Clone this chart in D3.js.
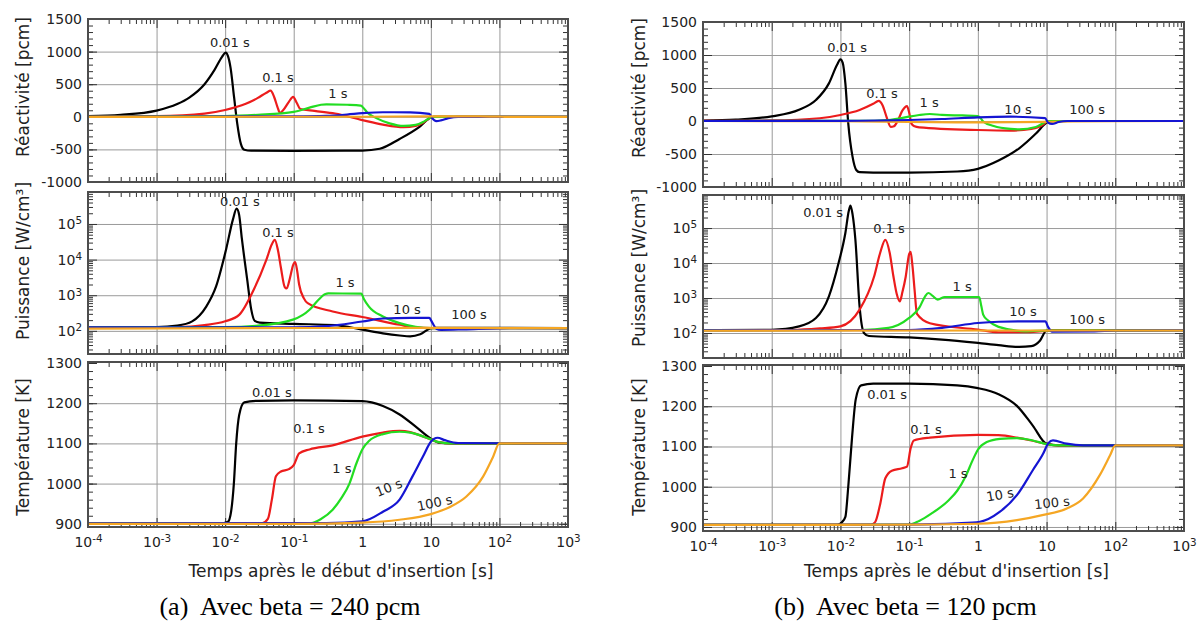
<!DOCTYPE html>
<html>
<head>
<meta charset="utf-8" />
<title>Insertion de réactivité</title>
<script src="https://d3js.org/d3.v7.min.js"></script>
<style>
  body { margin: 0; background: #fff; }
  svg { display: block; background: #fff; }
</style>
</head>
<body>
<svg width="1203" height="625"></svg>
<script>
// ---- data ----
const seriesNames = ["0.01 s", "0.1 s", "1 s", "10 s", "100 s"];
const seriesColors = ["#000000", "#ec1c1c", "#22dd22", "#1515d2", "#f5a623"];

const xTicks = [1e-4, 1e-3, 1e-2, 1e-1, 1, 10, 100, 1000];
const xTickLabels = [["10", "-4"], ["10", "-3"], ["10", "-2"], ["10", "-1"], ["1", ""], ["10", ""], ["10", "2"], ["10", "3"]];
const reactTicks = [-1000, -500, 0, 500, 1000, 1500];
const powerTicks = [1e2, 1e3, 1e4, 1e5];
const powerTickLabels = [["10", "2"], ["10", "3"], ["10", "4"], ["10", "5"]];
const tempTicks = [900, 1000, 1100, 1200, 1300];

// (a) beta = 240 pcm — [temps s, valeur]
const reactA = [
  [[1e-4,10],[3e-4,30],[1e-3,95],[2e-3,195],[3e-3,295],[5e-3,500],[7e-3,720],[9e-3,920],[1.02e-2,985],[1.1e-2,930],[1.2e-2,750],[1.35e-2,300],[1.5e-2,-100],[1.7e-2,-420],[1.9e-2,-505],[2.4e-2,-520],[0.1,-522],[1,-518],[1.8,-490],[3.5,-340],[6.9,-150],[10,-10],[11,0],[1000,0]],
  [[1e-4,1],[1e-3,10],[5e-3,50],[1e-2,105],[2e-2,200],[3e-2,290],[4e-2,370],[4.6e-2,400],[5.2e-2,300],[5.8e-2,150],[6.3e-2,60],[7e-2,100],[8.5e-2,230],[9.8e-2,305],[0.11,220],[0.125,120],[0.2,90],[0.4,50],[1,-50],[2,-120],[4,-160],[6,-140],[8,-80],[10,-10],[11,0],[1000,0]],
  [[1e-4,0],[1e-2,10],[3e-2,30],[0.1,75],[0.17,140],[0.25,185],[0.3,192],[0.6,185],[0.95,172],[1.05,130],[1.2,60],[1.6,-20],[2.5,-100],[4,-140],[6,-125],[8,-70],[10,-10],[11,0],[1000,0]],
  [[1e-4,0],[0.1,8],[0.3,15],[0.6,35],[1,55],[2,70],[5,68],[9.5,45],[10.3,-10],[12,-65],[14,-55],[18,-20],[25,0],[1000,0]],
  [[1e-4,0],[1,1],[10,8],[50,8],[100,2],[120,0],[1000,0]]
];
const powerA = [
  [[1e-4,125],[1e-3,127],[2e-3,140],[3.3e-3,185],[5.3e-3,480],[7.4e-3,1800],[1.03e-2,19000],[1.3e-2,135000],[1.47e-2,270000],[1.6e-2,180000],[1.75e-2,40000],[2.1e-2,2700],[2.4e-2,400],[2.7e-2,190],[3.2e-2,170],[0.1,157],[0.4,145],[1,108],[2,85],[3.5,74],[5,70],[7,80],[10,118],[12,122],[1000,120]],
  [[1e-4,125],[2e-3,128],[5e-3,145],[1e-2,185],[1.6e-2,280],[2.6e-2,1400],[4e-2,10000],[4.8e-2,27000],[5.3e-2,36000],[5.9e-2,18000],[6.5e-2,6000],[7.4e-2,1700],[7.9e-2,1550],[8.8e-2,3000],[9.8e-2,7000],[0.105,8500],[0.112,5000],[0.12,2000],[0.14,830],[0.16,600],[0.37,350],[1,245],[3.5,148],[6,125],[10,120],[1000,120]],
  [[1e-4,125],[1e-2,128],[3e-2,140],[0.1,210],[0.17,390],[0.23,750],[0.29,1080],[0.32,1120],[0.97,1110],[1.05,800],[1.25,480],[2,253],[3.5,165],[6,130],[10,120],[1000,120]],
  [[1e-4,125],[0.1,125],[0.3,135],[1,183],[2,222],[5,230],[9.5,230],[10.5,170],[12,115],[14,107],[30,110],[100,118],[1000,120]],
  [[1e-4,116],[10,121],[100,119],[1000,119]]
];
const tempA = [
  [[1e-4,901],[9e-3,901],[1.1e-2,905],[1.22e-2,930],[1.34e-2,1000],[1.45e-2,1100],[1.6e-2,1170],[1.9e-2,1202],[3e-2,1206],[0.1,1207],[1,1205],[2,1193],[3.5,1172],[6.2,1140],[10,1112],[13,1102],[20,1100],[1000,1100]],
  [[1e-4,901],[3.5e-2,902],[4.2e-2,912],[4.8e-2,960],[5.5e-2,1018],[6.5e-2,1030],[8.5e-2,1036],[0.1,1046],[0.12,1075],[0.17,1085],[0.37,1095],[1,1117],[2,1127],[3.5,1131],[5,1128],[7,1120],[10,1110],[13,1103],[20,1100],[1000,1100]],
  [[1e-4,901],[0.18,902],[0.25,912],[0.37,935],[0.5,965],[0.65,1000],[0.82,1050],[1,1085],[1.25,1106],[2,1123],[3.5,1129],[5,1127],[7,1120],[10,1110],[13,1103],[20,1100],[1000,1100]],
  [[1e-4,901],[0.3,902],[1,906],[2,930],[3.5,960],[5.4,1018],[7.7,1068],[10,1104],[12.5,1114],[16,1108],[25,1101],[1000,1100]],
  [[1e-4,900],[0.1,900],[1,903],[3.5,910],[10,924],[19,942],[33,968],[58,1018],[80,1065],[100,1100],[1000,1100]]
];

// (b) beta = 120 pcm
const reactB = [
  [[1e-4,7],[3e-4,22],[1e-3,70],[2.5e-3,170],[4.4e-3,318],[6.8e-3,570],[8.9e-3,848],[1e-2,935],[1.08e-2,880],[1.18e-2,570],[1.3e-2,-35],[1.5e-2,-540],[1.7e-2,-742],[1.9e-2,-775],[3e-2,-782],[0.1,-782],[0.5,-765],[1,-725],[2,-600],[4,-414],[7,-190],[10,-25],[11,0],[1000,0]],
  [[1e-4,1],[1e-3,8],[5e-3,42],[1e-2,91],[1.9e-2,167],[3e-2,260],[3.6e-2,305],[4.1e-2,240],[4.7e-2,60],[5.4e-2,-90],[6e-2,-80],[6.8e-2,0],[8e-2,160],[9.3e-2,225],[0.1,130],[0.108,-40],[0.12,-80],[0.14,-96],[1,-136],[3,-145],[6,-120],[9,-50],[10,-10],[11,0],[1000,0]],
  [[1e-4,0],[2e-2,2],[5e-2,15],[7.5e-2,40],[0.1,66],[0.14,91],[0.2,106],[0.3,92],[0.6,84],[1,76],[1.1,40],[1.2,-10],[1.7,-76],[3,-120],[4,-126],[7,-90],[10,-10],[11,0],[1000,0]],
  [[1e-4,0],[0.01,3],[0.1,15],[0.3,30],[1,55],[3,65],[9.5,45],[10.5,-25],[12,-45],[15,-15],[20,0],[1000,0]],
  [[1e-4,0],[0.01,-3],[0.1,-15],[1,-20],[10,-12],[100,-2],[1000,0]]
];
const powerB = [
  [[1e-4,120],[1e-3,124],[2.5e-3,155],[4.4e-3,268],[6.8e-3,1120],[9.4e-3,10000],[1.18e-2,72000],[1.32e-2,300000],[1.4e-2,440000],[1.5e-2,250000],[1.65e-2,47000],[1.9e-2,575],[2.2e-2,100],[2.6e-2,82],[0.1,75],[0.3,65],[1,52],[2,45],[4,40],[6,42],[8,60],[10,118],[12,120],[1000,120]],
  [[1e-4,120],[2e-3,122],[5e-3,135],[1e-2,155],[1.9e-2,465],[3.1e-2,4200],[3.8e-2,20000],[4.5e-2,46000],[5.2e-2,20000],[5.9e-2,4200],[6.6e-2,1300],[7.3e-2,800],[8e-2,1500],[8.9e-2,4000],[0.1,18000],[0.105,21000],[0.112,8000],[0.12,1700],[0.13,350],[0.2,190],[1,125],[2,105],[5,105],[10,115],[1000,120]],
  [[1e-4,120],[2e-2,122],[5e-2,140],[0.1,270],[0.14,520],[0.17,1100],[0.19,1390],[0.22,1150],[0.26,900],[0.33,1070],[1,1070],[1.05,1050],[1.12,600],[1.2,330],[1.4,230],[2,150],[5,112],[10,118],[1000,120]],
  [[1e-4,120],[0.1,122],[0.3,140],[1,193],[2,210],[5,215],[9.6,215],[10.5,150],[12,110],[50,112],[100,118],[1000,120]],
  [[1e-4,116],[10,118],[1000,118]]
];
const tempB = [
  [[1e-4,905],[9e-3,905],[1.05e-2,912],[1.18e-2,925],[1.3e-2,1000],[1.48e-2,1125],[1.67e-2,1217],[2e-2,1252],[3e-2,1256],[0.1,1256],[0.5,1252],[1,1245],[2,1230],[3.7,1201],[6.3,1152],[10,1107],[15,1103],[1000,1103]],
  [[1e-4,905],[2.8e-2,906],[3.2e-2,912],[3.8e-2,958],[4.5e-2,1021],[5.6e-2,1040],[7.9e-2,1046],[9.3e-2,1050],[0.105,1095],[0.117,1115],[0.2,1122],[1,1129],[2,1128],[3.7,1122],[6,1115],[10,1106],[15,1103],[1000,1103]],
  [[1e-4,905],[0.1,906],[0.14,915],[0.21,933],[0.38,967],[0.5,990],[0.66,1025],[0.85,1068],[1,1092],[1.35,1111],[2.1,1119],[3.7,1121],[6.3,1115],[10,1106],[15,1103],[1000,1103]],
  [[1e-4,905],[0.1,906],[0.5,909],[1.07,913],[2.1,938],[3.7,979],[6.3,1041],[8.9,1082],[10.6,1108],[12.4,1115],[19.6,1107],[34,1103],[1000,1103]],
  [[1e-4,905],[0.1,906],[1,908],[3.7,917],[9,930],[19.7,946],[34,971],[60,1030],[84,1078],[100,1103],[1000,1103]]
];

// curve annotations: [texte, t, valeur, angle]
const labelsReactA = [["0.01 s",0.0117,1140,0],["0.1 s",0.059,600,0],["1 s",0.44,354,0]];
const labelsPowerA = [["0.01 s",0.0164,4.3e5,0],["0.1 s",0.059,5.8e4,0],["1 s",0.56,2250,0],["10 s",4.5,390,0],["100 s",36,283,0]];
const labelsTempA = [["0.01 s",0.048,1227,0],["0.1 s",0.167,1137,0],["1 s",0.505,1037,0],["10 s",2.44,990,-22],["100 s",11.4,952,-12]];
const labelsReactB = [["0.01 s",0.0125,1121,0],["0.1 s",0.0404,424,0],["1 s",0.195,273,0],["10 s",3.85,167,0],["100 s",38.9,167,0]];
const labelsPowerB = [["0.01 s",0.0056,2.7e5,0],["0.1 s",0.051,1e5,0],["1 s",0.59,2200,0],["10 s",4.55,400,0],["100 s",38.9,251,0]];
const labelsTempB = [["0.01 s",0.0477,1228,0],["0.1 s",0.176,1141,0],["1 s",0.515,1034,0],["10 s",2.1,980,-10],["100 s",12,960,-6]];

const yTitles = ["Réactivité [pcm]", "Puissance [W/cm³]", "Température [K]"];
const xTitle = "Temps après le début d'insertion [s]";

// ---- layout ----
const FONT = "'DejaVu Sans', sans-serif";
const svg = d3.select("svg");

const panels = [
  { id: "a", x0: 88, x1: 568, rows: [[19, 182], [192, 354], [362, 527]],
    powerDomain: [22.4, 7.9e5], tempDomain: [892, 1302.5],
    data: [reactA, powerA, tempA], labels: [labelsReactA, labelsPowerA, labelsTempA],
    order: [[0,1,2,3,4],[0,1,2,3,4],[0,1,2,3,4]],
    titleX: 23, titleY: [87, 261, 447], caption: "(a)  Avec beta = 240 pcm" },
  { id: "b", x0: 703, x1: 1184, rows: [[22, 187], [195, 358], [365, 531]],
    powerDomain: [19.3, 8.8e5], tempDomain: [890, 1302.5],
    data: [reactB, powerB, tempB], labels: [labelsReactB, labelsPowerB, labelsTempB],
    order: [[0,1,2,4,3],[0,1,2,3,4],[0,1,2,3,4]],
    titleX: 639, titleY: [88, 268, 447], caption: "(b)  Avec beta = 120 pcm" }
];

function supText(sel, pair) {
  sel.text(null);
  sel.append("tspan").text(pair[0]);
  if (pair[1]) sel.append("tspan").attr("dy", "-0.45em").attr("font-size", "0.74em").text(pair[1]);
}

const xMinor = [];
for (let d = -4; d <= 2; d++) for (let k = 2; k <= 9; k++) xMinor.push(k * Math.pow(10, d));

function logMinor(domain) {
  const out = [];
  for (let d = 0; d <= 6; d++) for (let k = 2; k <= 9; k++) {
    const v = k * Math.pow(10, d);
    if (v >= domain[0] && v <= domain[1]) out.push(v);
  }
  return out;
}

function tickGroup(g, axis, transform, color) {
  g.append("g").attr("transform", transform).call(axis)
    .call(s => s.select(".domain").remove())
    .selectAll("line").attr("stroke", color).attr("stroke-width", 1);
}

function drawPanel(p) {
  const w = p.x1 - p.x0;
  const x = d3.scaleLog().domain([1e-4, 1e3]).range([0, w]);
  const yScales = [
    d3.scaleLinear().domain([-1000, 1500]),
    d3.scaleLog().domain(p.powerDomain),
    d3.scaleLinear().domain(p.tempDomain)
  ];
  const majors = [reactTicks, powerTicks, tempTicks];
  const minors = [d3.range(-1000, 1501, 100), logMinor(p.powerDomain), d3.range(900, 1301, 20)];

  p.rows.forEach(([top, bottom], r) => {
    const h = bottom - top;
    const y = yScales[r].range([h, 0]);
    const g = svg.append("g").attr("transform", `translate(${p.x0},${top})`);
    const clipId = `clip-${p.id}-${r}`;
    g.append("clipPath").attr("id", clipId).append("rect").attr("width", w).attr("height", h);

    // grid
    tickGroup(g, d3.axisBottom(x).tickValues(xTicks.slice(1, -1)).tickSize(-h).tickFormat(""), `translate(0,${h})`, "#9a9a9a");
    tickGroup(g, d3.axisLeft(y).tickValues(majors[r].filter(v => y(v) > 2 && y(v) < h - 2)).tickSize(-w).tickFormat(""), "translate(0,0)", "#9a9a9a");

    // inward ticks on the four sides
    tickGroup(g, d3.axisBottom(x).tickValues(xMinor).tickSize(-5).tickFormat(""), `translate(0,${h})`, "#333");
    tickGroup(g, d3.axisBottom(x).tickValues(xTicks).tickSize(-9).tickFormat(""), `translate(0,${h})`, "#333");
    tickGroup(g, d3.axisTop(x).tickValues(xMinor).tickSize(-5).tickFormat(""), "translate(0,0)", "#333");
    tickGroup(g, d3.axisTop(x).tickValues(xTicks).tickSize(-9).tickFormat(""), "translate(0,0)", "#333");
    tickGroup(g, d3.axisLeft(y).tickValues(minors[r]).tickSize(-5).tickFormat(""), "translate(0,0)", "#333");
    tickGroup(g, d3.axisLeft(y).tickValues(majors[r]).tickSize(-9).tickFormat(""), "translate(0,0)", "#333");
    tickGroup(g, d3.axisRight(y).tickValues(minors[r]).tickSize(-5).tickFormat(""), `translate(${w},0)`, "#333");
    tickGroup(g, d3.axisRight(y).tickValues(majors[r]).tickSize(-9).tickFormat(""), `translate(${w},0)`, "#333");

    // curves
    const line = d3.line().x(d => x(d[0])).y(d => y(d[1])).curve(d3.curveMonotoneX);
    const lines = g.append("g").attr("clip-path", `url(#${clipId})`);
    p.order[r].forEach(i => {
      lines.append("path").datum(p.data[r][i]).attr("d", line)
        .attr("fill", "none").attr("stroke", seriesColors[i])
        .attr("stroke-width", 2.2).attr("stroke-linejoin", "round");
    });

    // frame
    g.append("rect").attr("width", w).attr("height", h)
      .attr("fill", "none").attr("stroke", "#4d4d4d").attr("stroke-width", 2);

    // y tick labels
    const yAx = g.append("g")
      .call(d3.axisLeft(y).tickValues(majors[r]).tickSize(0).tickPadding(6)
        .tickFormat(d => r === 1 ? "" : String(d)))
      .call(s => s.select(".domain").remove());
    yAx.selectAll("text").attr("font-family", FONT).attr("font-size", 14).attr("fill", "#222");
    if (r === 1) yAx.selectAll("text").each(function(d) {
      supText(d3.select(this), powerTickLabels[powerTicks.indexOf(d)]);
    });

    // x tick labels on the bottom row
    if (r === 2) {
      const xAx = g.append("g").attr("transform", `translate(0,${h})`)
        .call(d3.axisBottom(x).tickValues(xTicks).tickSize(0).tickPadding(10).tickFormat(""))
        .call(s => s.select(".domain").remove());
      xAx.selectAll("text").attr("font-family", FONT).attr("font-size", 14).attr("fill", "#222")
        .each(function(d, i) { supText(d3.select(this), xTickLabels[i]); });
    }

    // curve annotations
    g.append("g").selectAll("text").data(p.labels[r]).join("text")
      .attr("transform", d => `translate(${x(d[1])},${y(d[2])}) rotate(${d[3]})`)
      .attr("text-anchor", "middle").attr("dominant-baseline", "central")
      .attr("font-family", FONT).attr("font-size", 13).attr("fill", "#222")
      .text(d => d[0]);

    // y title
    svg.append("text")
      .attr("transform", `translate(${p.titleX},${p.titleY[r]}) rotate(-90)`)
      .attr("text-anchor", "middle").attr("dominant-baseline", "central")
      .attr("font-family", FONT).attr("font-size", 17).attr("fill", "#222")
      .text(yTitles[r]);
  });

  // x title
  svg.append("text")
    .attr("x", (p.x0 + p.x1) / 2 + 13).attr("y", 577)
    .attr("text-anchor", "middle")
    .attr("font-family", FONT).attr("font-size", 17).attr("fill", "#222")
    .text(xTitle);

  // caption
  svg.append("text")
    .attr("x", (p.x0 + p.x1) / 2 - 38).attr("y", 615)
    .attr("text-anchor", "middle").style("white-space", "pre")
    .attr("font-family", "'Liberation Serif', serif").attr("font-size", 26).attr("fill", "#000")
    .text(p.caption);
}

panels.forEach(drawPanel);
</script>
</body>
</html>
